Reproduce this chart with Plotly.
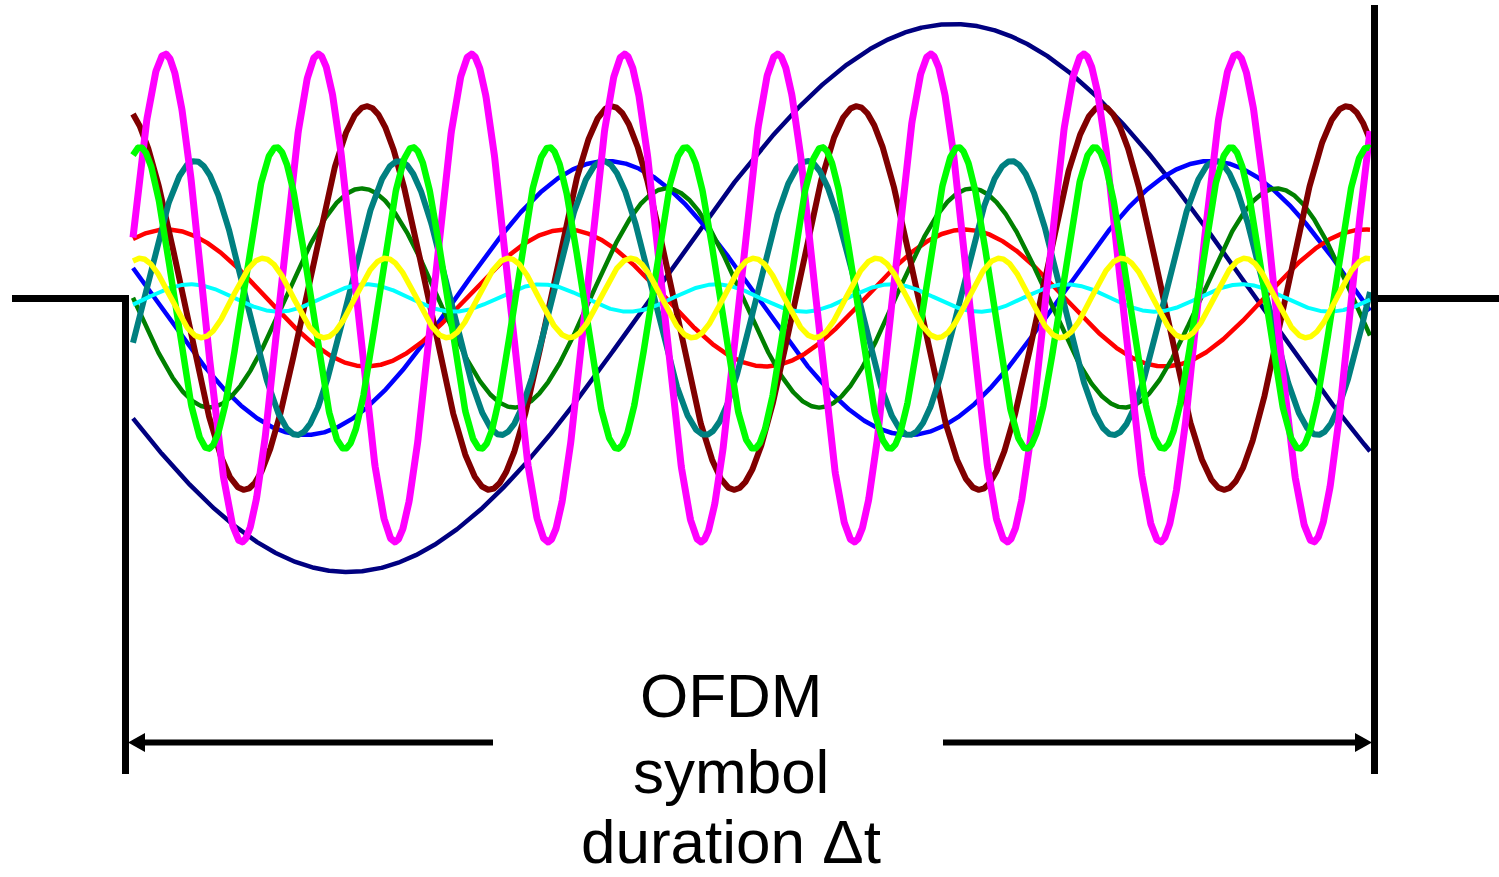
import numpy as np
import plotly.graph_objects as go

# Subportadoras OFDM: 10 senoides dentro de um símbolo.
# Valores: ciclos visíveis na janela, amplitude relativa
# (portadora 1 = 1.0) e instante (fração do símbolo) de uma crista.
SUBCARRIERS = ["f1", "f2", "f3", "f4", "f5", "f6", "f7", "f8", "f9", "f10"]
CYCLES = [1.022, 2.05, 3.10, 4.056, 5.05, 6.06, 7.06, 8.08, 9.07, 10.08]
AMPLITUDES = [1.0, 0.50, 0.25, 0.40, 0.70, 0.50, 0.05, 0.89, 0.55, 0.145]
CREST_T = [0.663, 0.383, 0.350, 0.185, 0.189, 0.050, 0.330, 0.026, 0.0057, 0.105]

LABEL_LINES = ["OFDM", "symbol", "duration Δt"]

COLORS = ["#000080", "#0000FF", "#FF0000", "#008000", "#800000",
          "#008080", "#00FFFF", "#FF00FF", "#00FF00", "#FFFF00"]
WIDTHS = [4.5, 4.5, 4.5, 4.5, 6, 6, 4, 7, 6.5, 5.5]

W, H = 1499, 877
X0, X1 = 133, 1370      # janela do símbolo em pixels
Y0, UNIT = 298, 274     # linha de base e pixels por unidade de amplitude


def px(x):
    return x / W


def py(y):
    return 1 - y / H


t = np.linspace(0, 1, 3000)
fig = go.Figure()

for name, c, a, tc, color, w in zip(SUBCARRIERS, CYCLES, AMPLITUDES, CREST_T, COLORS, WIDTHS):
    fig.add_trace(go.Scatter(
        x=t, y=a * np.cos(2 * np.pi * c * (t - tc)), mode="lines",
        line=dict(color=color, width=w), name=name, hoverinfo="skip",
    ))

# moldura do símbolo: base, barras verticais e seta de duração
black = dict(color="black", width=7)
shapes = [
    dict(type="line", x0=px(12), x1=px(129), y0=py(298.5), y1=py(298.5), line=black),
    dict(type="line", x0=px(125.5), x1=px(125.5), y0=py(295), y1=py(774), line=black),
    dict(type="line", x0=px(1374.5), x1=px(1374.5), y0=py(5), y1=py(774), line=black),
    dict(type="line", x0=px(1371), x1=px(1499), y0=py(298.5), y1=py(298.5), line=black),
    dict(type="line", x0=px(140), x1=px(493), y0=py(742.5), y1=py(742.5),
         line=dict(color="black", width=6)),
    dict(type="line", x0=px(943), x1=px(1360), y0=py(742.5), y1=py(742.5),
         line=dict(color="black", width=6)),
    dict(type="path", line=dict(width=0), fillcolor="black",
         path=f"M {px(128)} {py(742.5)} L {px(145)} {py(733)} L {px(145)} {py(752)} Z"),
    dict(type="path", line=dict(width=0), fillcolor="black",
         path=f"M {px(1372)} {py(742.5)} L {px(1355)} {py(733)} L {px(1355)} {py(752)} Z"),
]
for s in shapes:
    s.update(xref="paper", yref="paper", layer="above")

annotations = [
    dict(text=txt, x=px(731), y=py(yc), xref="paper", yref="paper",
         xanchor="center", yanchor="middle", showarrow=False,
         font=dict(family="Liberation Sans, Arial", size=62, color="black"))
    for txt, yc in zip(LABEL_LINES, [695, 771, 841])
]

fig.update_layout(
    width=W, height=H, margin=dict(l=0, r=0, t=0, b=0),
    paper_bgcolor="white", plot_bgcolor="white", showlegend=False,
    shapes=shapes, annotations=annotations,
)
fig.update_xaxes(visible=False, range=[(0 - X0) / (X1 - X0), (W - X0) / (X1 - X0)])
fig.update_yaxes(visible=False, range=[-(H - Y0) / UNIT, Y0 / UNIT])

fig.write_html("out.html", post_script="document.body.style.margin='0';",
               config={"displayModeBar": False})
